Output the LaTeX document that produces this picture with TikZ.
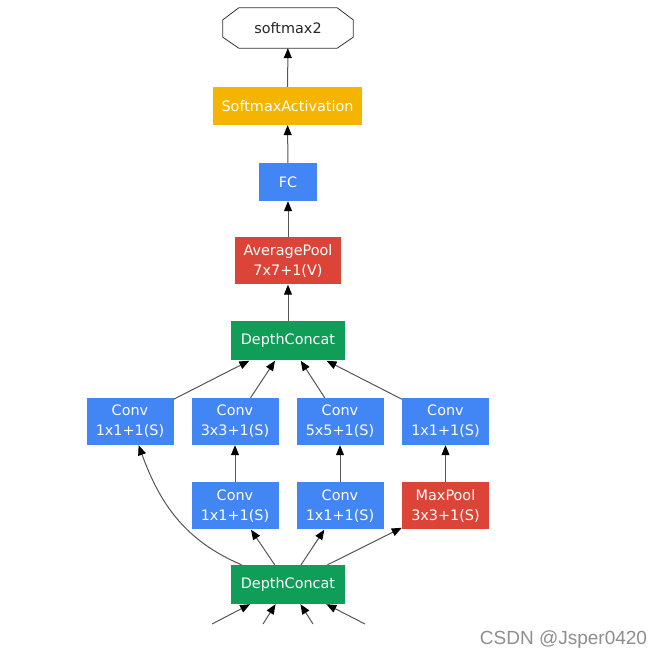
\documentclass[tikz,border=0pt]{standalone}
\usepackage{fontspec}
\setmainfont{DejaVu Sans}
\newfontfamily\markfont{Liberation Sans}
\usetikzlibrary{arrows.meta,calc}
\definecolor{GBlue}{HTML}{4285F4}
\definecolor{GRed}{HTML}{DB4437}
\definecolor{GGreen}{HTML}{0F9D58}
\definecolor{GYellow}{HTML}{F4B400}
\definecolor{Edge}{HTML}{555555}
\definecolor{Mark}{HTML}{8E8E8E}
\tikzset{
  layer/.style={
    inner sep=0pt, text=white, align=center,
    font=\fontsize{14.4}{20}\selectfont,
    minimum width=87pt, minimum height=47pt
  },
  conv/.style={layer, fill=GBlue},
  pool/.style={layer, fill=GRed},
  concat/.style={layer, fill=GGreen, minimum width=114pt, minimum height=39pt},
  activation/.style={layer, fill=GYellow, minimum width=149pt, minimum height=38pt},
  output/.style={
    inner sep=0pt, text=black!85,
    font=\fontsize{14.4}{20}\selectfont,
    minimum width=130pt, minimum height=40pt
  },
  octagon/.style={draw=black!80, line width=0.8pt},
  flow/.style={-{Triangle[length=10pt,width=8pt,black]}, draw=Edge, line width=1pt}
}

\begin{document}
\begin{tikzpicture}[x=1pt,y=1pt]
    \useasboundingbox (0,0) rectangle (661,662);
    % head of the network
    \node[output] (softmax) at (288,634) {softmax2};
    \draw[octagon] ($(softmax.north west)+(16,0)$) -- ($(softmax.north east)+(-16,0)$)
      -- ($(softmax.north east)+(0,-12)$) -- ($(softmax.south east)+(0,11)$)
      -- ($(softmax.south east)+(-16,0)$) -- ($(softmax.south west)+(16,0)$)
      -- ($(softmax.south west)+(0,11)$) -- ($(softmax.north west)+(0,-12)$) -- cycle;
    \node[activation] (act) at (287.5,556) {SoftmaxActivation};
    \node[conv,minimum width=58pt,minimum height=38pt] (fc) at (288,480) {FC};
    \node[pool,minimum width=106pt] (avg) at (288,401) {AveragePool\\7x7+1(V)};
    \node[concat] (dcTop) at (288,321) {DepthConcat};
    % inception branches
    \node[conv] (c1) at (130,240.5) {Conv\\1x1+1(S)};
    \node[conv] (c2) at (235,240.5) {Conv\\3x3+1(S)};
    \node[conv] (c3) at (340,240.5) {Conv\\5x5+1(S)};
    \node[conv] (c4) at (445.5,240.5) {Conv\\1x1+1(S)};
    \node[conv] (r2) at (235,156) {Conv\\1x1+1(S)};
    \node[conv] (r3) at (340,156) {Conv\\1x1+1(S)};
    \node[pool] (mp) at (445.5,156) {MaxPool\\3x3+1(S)};
    \node[concat] (dcLow) at (288,77.5) {DepthConcat};
    % cut-off inputs
    \coordinate (in1) at (212,38);
    \coordinate (in2) at (263,38);
    \coordinate (in3) at (313,38);
    \coordinate (in4) at (365,38);
    \draw[flow] (act) -- (softmax);
    \draw[flow] (fc) -- (act);
    \draw[flow] (avg) -- (fc);
    \draw[flow] (dcLow) to[out=157,in=-70] (c1);
    \draw[flow] (dcTop) -- (avg);
    \foreach \b in {c1,c2,c3,c4}
      \draw[flow] (\b) -- (dcTop);
    \draw[flow] (r2) -- (c2);
    \draw[flow] (r3) -- (c3);
    \draw[flow] (mp) -- (c4);
    \foreach \b in {r2,r3,mp}
      \draw[flow] (dcLow) -- (\b);
    \foreach \i in {in1,in2,in3,in4}
      \draw[flow] (\i) -- (dcLow);
    \node[text=Mark, font=\markfont\fontsize{19}{22}\selectfont] (mark) at (563.5,22) {CSDN @Jsper0420};
\end{tikzpicture}
\end{document}
